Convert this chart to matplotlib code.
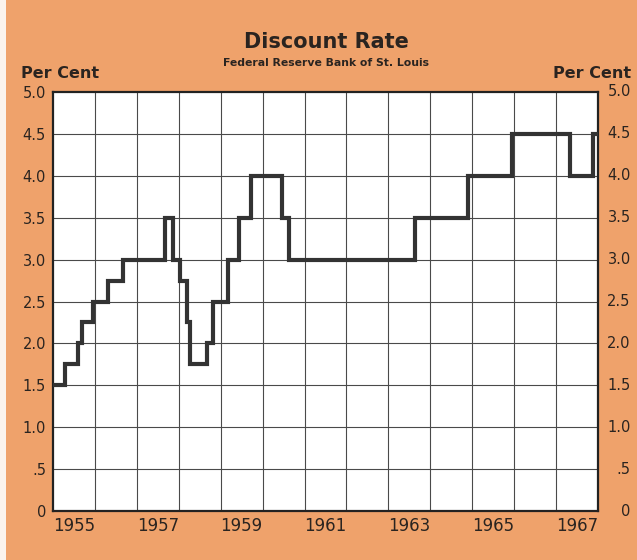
import matplotlib
matplotlib.use("Agg")
import matplotlib.pyplot as plt
import matplotlib.transforms as mtransforms
from matplotlib.patches import Rectangle

# discount rate changes (year as decimal) and the new rate, per cent
change_dates = [1955.0, 1955.29, 1955.60, 1955.68, 1955.96, 1956.32, 1956.68,
                1957.67, 1957.87, 1958.03, 1958.19, 1958.27, 1958.67, 1958.82,
                1959.18, 1959.44, 1959.72, 1960.46, 1960.64, 1963.64, 1964.91,
                1965.96, 1967.33, 1967.89]
rates = [1.5, 1.75, 2.0, 2.25, 2.5, 2.75, 3.0,
         3.5, 3.0, 2.75, 2.25, 1.75, 2.0, 2.5,
         3.0, 3.5, 4.0, 3.5, 3.0, 3.5, 4.0,
         4.5, 4.0, 4.5]
end_date = 1968.0

year_labels = ["1955", "1957", "1959", "1961", "1963", "1965", "1967"]
y_ticks = [0, 0.5, 1.0, 1.5, 2.0, 2.5, 3.0, 3.5, 4.0, 4.5, 5.0]
y_tick_labels = ["0", ".5", "1.0", "1.5", "2.0", "2.5", "3.0", "3.5", "4.0", "4.5", "5.0"]

bg = "#EFA26B"
ink = "#2a2420"
font = "DejaVu Sans"

fig = plt.figure(figsize=(6.37, 5.6), dpi=100, facecolor=bg)
fig.patches.append(Rectangle((0, 0), 6 / 637, 1, transform=fig.transFigure,
                             facecolor="#fbf3ec", edgecolor="none"))
ax = fig.add_axes([53 / 637, 49 / 560, 545 / 637, 419 / 560])
ax.set_facecolor("white")

xs = change_dates + [end_date]
ys = rates + [rates[-1]]
ax.step(xs, ys, where="post", color="#333333", linewidth=3, solid_joinstyle="miter", zorder=3)

ax.set_xlim(1955, 1968)
ax.set_ylim(0, 5)
for yr in range(1956, 1968):
    ax.axvline(yr, color="#4a4a4a", linewidth=0.8, zorder=1)
for yv in y_ticks[1:-1]:
    ax.axhline(yv, color="#4a4a4a", linewidth=0.8, zorder=1)

for s in ax.spines.values():
    s.set_linewidth(1.6)
    s.set_color("#222222")

ax.set_xticks([int(y) + 0.5 for y in year_labels])
ax.set_xticklabels(year_labels, fontsize=12, color=ink, family=font)
ax.set_yticks(y_ticks)
ax.set_yticklabels(y_tick_labels, fontsize=10.5, color=ink, family=font)
ax.tick_params(axis="x", length=0, pad=4)
ax.tick_params(axis="y", length=0, pad=5)

# right-hand labels
trans = mtransforms.blended_transform_factory(ax.transAxes, ax.transData)
for v, lab in zip(y_ticks, y_tick_labels):
    ax.text(1.06, v, lab, transform=trans, ha="right", va="center",
            fontsize=10.5, color=ink, family=font)

fig.text(326 / 637, 1 - 42 / 560, "Discount Rate", ha="center", va="center",
         fontsize=15, fontweight="bold", color=ink, family=font)
fig.text(326 / 637, 1 - 63 / 560, "Federal Reserve Bank of St. Louis", ha="center",
         va="center", fontsize=7.8, fontweight="bold", color=ink, family=font)
fig.text(21 / 637, 1 - 73 / 560, "Per Cent", ha="left", va="center",
         fontsize=11.5, fontweight="bold", color=ink, family=font)
fig.text(631 / 637, 1 - 73 / 560, "Per Cent", ha="right", va="center",
         fontsize=11.5, fontweight="bold", color=ink, family=font)

fig.savefig("out.png", dpi=100, facecolor=bg)
